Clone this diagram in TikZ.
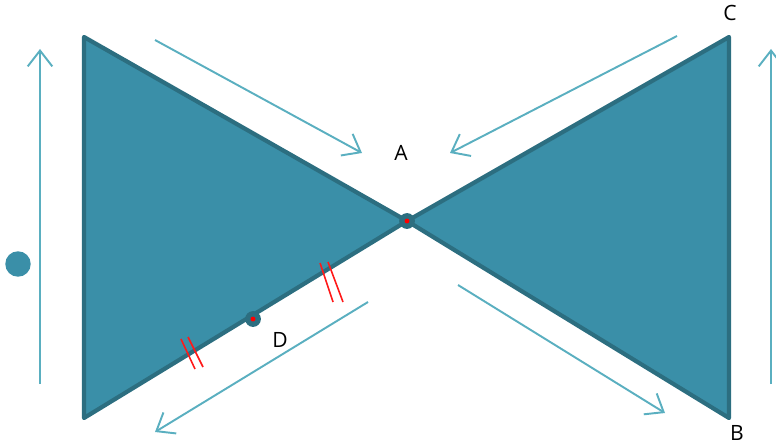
\documentclass[tikz,border=0pt]{standalone}
\usepackage{fontspec}
\setmainfont{Open Sans}
\usetikzlibrary{arrows.meta}

\definecolor{bowfill}{HTML}{3A8FA8}
\definecolor{bowedge}{HTML}{2C6E80}
\definecolor{flow}{HTML}{5AAFC0}

\begin{document}
\begin{tikzpicture}[
    x=0.02cm, y=-0.02cm,
    wing/.style={fill=bowfill, draw=bowedge, line width=2.4pt, line join=round},
    flowarrow/.style={draw=flow, line width=1.1pt, -{Straight Barb[length=9pt, width=14pt]}},
    pin/.style={circle, fill=bowedge, inner sep=0pt, minimum size=9pt},
    tick/.style={draw=red!90!white, line width=0.9pt},
    lbl/.style={font=\large, inner sep=1pt}
]
    \useasboundingbox (0,0) rectangle (776,446);

    % corners of the bow tie
    \coordinate (TL) at (84,37);
    \coordinate (BL) at (84,418);
    \coordinate (TR) at (729,37);
    \coordinate (BR) at (729,418);
    \coordinate (M) at (407,221);

    \draw[wing] (TL) -- (M) -- (BL) -- cycle;
    \draw[wing] (TR) -- (M) -- (BR) -- cycle;

    % points
    \node[pin] (a) at (M) {};
    \fill[red] (a) circle (1.4pt);
    \node[pin] (d) at (253,319) {};
    \fill[red] (d) circle (1.4pt);

    \node[lbl] (A) at (401,153) {A};
    \node[lbl] (D) at (280,340) {D};
    \node[lbl] (C) at (730,13) {C};
    \node[lbl] (B) at (737,433) {B};

    % equal-length ticks
    \draw[tick] (320,263) -- (333,302) (328,262) -- (343,302);
    \draw[tick] (181,339) -- (195,369) (188,337) -- (203,367);

    % flow arrows
    \coordinate (l0) at (40,384);   \coordinate (l1) at (40,49);
    \coordinate (r0) at (771,384);  \coordinate (r1) at (771,49);
    \coordinate (tl0) at (155,40);  \coordinate (tl1) at (362,153);
    \coordinate (tr0) at (677,36);  \coordinate (tr1) at (450,153);
    \coordinate (bl0) at (368,302); \coordinate (bl1) at (155,432);
    \coordinate (br0) at (458,285); \coordinate (br1) at (665,413);

    \draw[flowarrow] (l0) -- (l1);
    \draw[flowarrow] (r0) -- (r1);
    \draw[flowarrow] (tl0) -- (tl1);
    \draw[flowarrow] (tr0) -- (tr1);
    \draw[flowarrow] (bl0) -- (bl1);
    \draw[flowarrow] (br0) -- (br1);

    \node[circle, fill=bowfill, minimum size=14.5pt, inner sep=0pt] (dot) at (18,264) {};
\end{tikzpicture}
\end{document}
